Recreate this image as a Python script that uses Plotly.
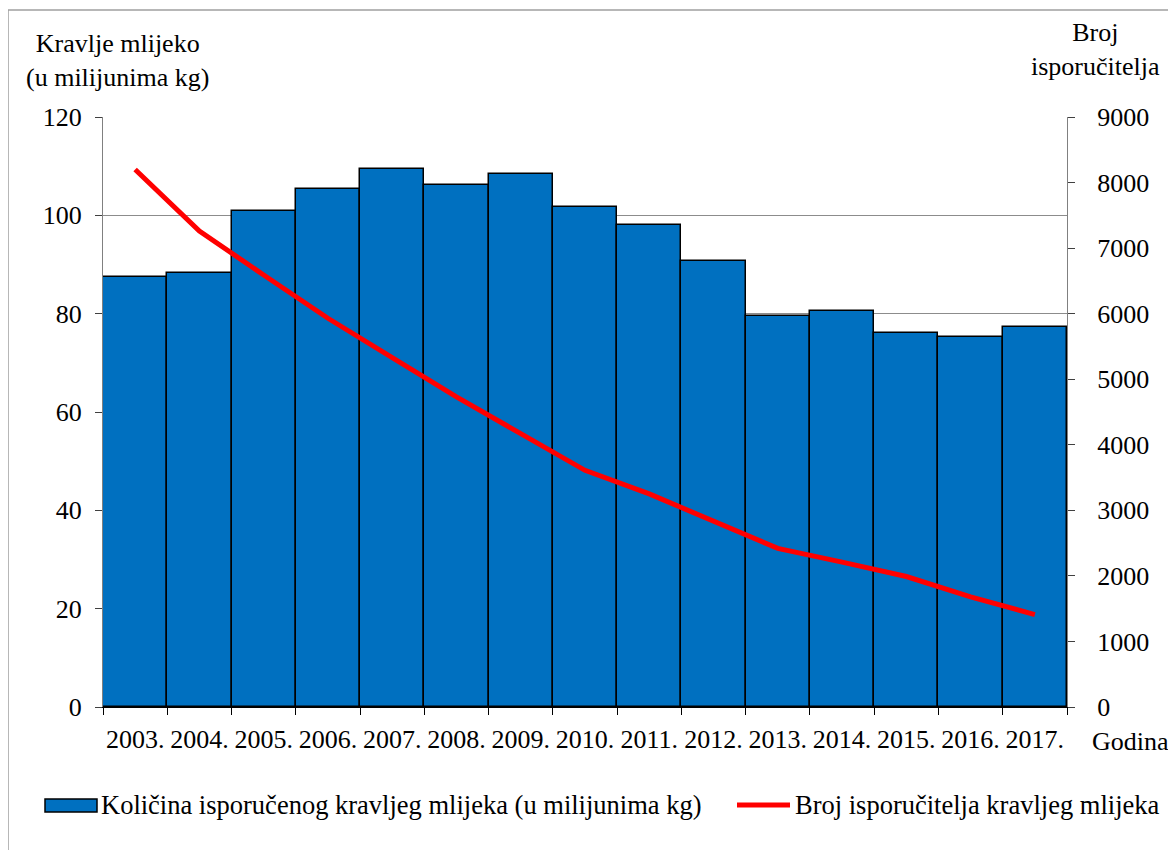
import plotly.graph_objects as go

years = ["2003.", "2004.", "2005.", "2006.", "2007.", "2008.", "2009.", "2010.",
         "2011.", "2012.", "2013.", "2014.", "2015.", "2016.", "2017."]
milk = [87.5, 88.2, 100.8, 105.3, 109.5, 106.2, 108.5, 101.7,
        98.0, 90.8, 79.6, 80.6, 76.0, 75.3, 77.3]
suppliers = [8200, 7260, 6590, 5930, 5330, 4730, 4170, 3610,
             3250, 2840, 2420, 2210, 1990, 1680, 1410]

bar_name = "Količina isporučenog kravljeg mlijeka (u milijunima kg)"
line_name = "Broj isporučitelja kravljeg mlijeka"

# page offset (browser body margin) and figure size
OX, OY = 8, 8
W, H = 1160, 842
# plot area in screen pixels
L, R, T, B = 103, 1067, 117, 707
FONT = "Times New Roman, Liberation Serif, serif"
TICK = 26
TXT = 26
LEG = 26.5


def px(x):
    return (x - L) / (R - L)


def py(y):
    return (B - y) / (B - T)


fig = go.Figure()
fig.add_trace(go.Bar(x=years, y=milk, name=bar_name,
                     marker=dict(color="#0070C0", line=dict(color="black", width=1.5)),
                     yaxis="y"))
fig.add_trace(go.Scatter(x=years, y=suppliers, name=line_name, mode="lines",
                         line=dict(color="#FF0000", width=5), yaxis="y2"))

fig.update_layout(
    width=W, height=H,
    margin=dict(l=L - OX, r=(OX + W) - R, t=T - OY, b=(OY + H) - B, autoexpand=False),
    paper_bgcolor="white", plot_bgcolor="white",
    font=dict(family=FONT, size=TICK, color="black"),
    showlegend=False,
    bargap=0,
    xaxis=dict(type="category", showline=True, linecolor="black", linewidth=1,
               ticks="outside", tickson="boundaries", ticklen=7, tickcolor="black",
               showgrid=False, tickangle=0,
               tickfont=dict(family=FONT, size=TICK), ticklabelstandoff=9),
    yaxis=dict(range=[0, 120], dtick=20, showline=True, linecolor="#808080",
               ticks="outside", ticklen=7, tickcolor="#404040",
               showgrid=True, gridcolor="#8c8c8c", gridwidth=1, zeroline=False,
               tickfont=dict(family=FONT, size=TICK), ticklabelstandoff=8),
    yaxis2=dict(range=[0, 9000], dtick=1000, overlaying="y", side="right",
                showline=True, linecolor="#808080", ticks="outside", ticklen=7,
                tickcolor="#404040", showgrid=False, zeroline=False,
                tickfont=dict(family=FONT, size=TICK), ticklabelstandoff=17),
)

ann = dict(xref="paper", yref="paper", showarrow=False)
tfont = dict(family=FONT, size=TXT, color="black")
lfont = dict(family=FONT, size=LEG, color="black")
fig.add_annotation(text="Kravlje mlijeko<br>(u milijunima kg)", x=px(117), y=py(60),
                   xanchor="center", yanchor="middle", font=tfont, **ann)
fig.add_annotation(text="Broj<br>isporučitelja", x=px(1095), y=py(50),
                   xanchor="center", yanchor="middle", font=tfont, **ann)
fig.add_annotation(text="Godina", x=px(1130), y=py(741),
                   xanchor="center", yanchor="middle", font=tfont, **ann)
fig.add_annotation(text=bar_name, x=px(99), y=py(805), xanchor="left", yanchor="middle",
                   font=lfont, **ann)
fig.add_annotation(text=line_name, x=px(793), y=py(805), xanchor="left", yanchor="middle",
                   font=lfont, **ann)

# legend keys
fig.add_shape(type="rect", xref="paper", yref="paper", x0=px(45), x1=px(97),
              y0=py(812), y1=py(799), fillcolor="#0070C0", line=dict(color="black", width=1.5))
fig.add_shape(type="line", xref="paper", yref="paper", x0=px(737), x1=px(790),
              y0=py(805), y1=py(805), line=dict(color="#FF0000", width=5))
# chart area border
fig.add_shape(type="rect", xref="paper", yref="paper", x0=px(8), x1=px(1190),
              y0=py(870), y1=py(10), line=dict(color="#a0a0a0", width=1.5), layer="below")

fig.write_html("out.html")
